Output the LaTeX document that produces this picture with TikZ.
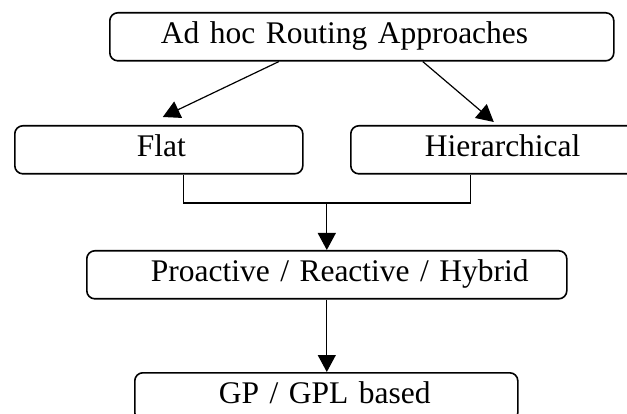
\documentclass[tikz,border=0pt]{standalone}
\usepackage{fontspec}
\setmainfont{Liberation Serif}
\usetikzlibrary{arrows.meta}

\begin{document}
\begin{tikzpicture}[
  x=1pt, y=-1pt,
  >={Triangle[length=17pt,width=18pt]},
  stagebox/.style={
    draw,
    line width=1.6pt,
    rounded corners=8pt,
    anchor=north west,
    minimum height=48pt,
    inner xsep=0pt,
    inner ysep=0pt,
    align=left,
    text height=21pt,
    text depth=7pt,
    font=\fontsize{31.5}{36}\selectfont
  },
  textlead/.style={execute at begin node={\noindent\hspace*{#1}}},
  flowarrow/.style={->, line width=1.2pt},
  joinline/.style={line width=1.2pt}
]

\useasboundingbox (0,0) rectangle (627,414);

\node[stagebox, text width=504pt, textlead=51pt] (top) at (109,12) {Ad hoc Routing Approaches};
\node[stagebox, text width=288pt, textlead=122pt] (flat) at (14,125) {Flat};
\node[stagebox, text width=302pt, textlead=74pt] (hier) at (350,125) {Hierarchical};
\node[stagebox, text width=480pt, textlead=64pt] (pro) at (86,250) {Proactive / Reactive / Hybrid};
\node[stagebox, text width=383pt, textlead=84pt] (gp) at (134,372) {GP / GPL based};

% split into the two families
\draw[flowarrow] ([xshift=-83pt]top.south) -- ([xshift=4pt,yshift=8pt]flat.north);
\draw[flowarrow] ([xshift=61pt]top.south) -- ([xshift=-8pt,yshift=3pt]hier.north);

% both families merge again
\coordinate (join) at ([yshift=47pt]pro.north);
\draw[joinline] ([xshift=25pt]flat.south) |- (join) -| ([xshift=-31pt]hier.south);
\draw[flowarrow] (join) -- (pro.north);
\draw[flowarrow] (pro.south) -- (pro.south |- gp.north);

\end{tikzpicture}
\end{document}
